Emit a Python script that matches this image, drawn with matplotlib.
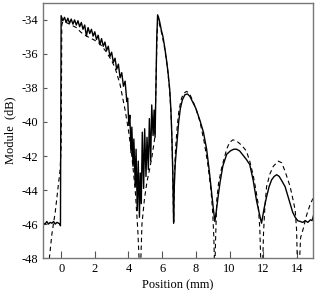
"""Module vs position: measured (solid) and simulated (dashed) profiles."""
import matplotlib

matplotlib.use("Agg")
from matplotlib import pyplot as plt

plt.rcParams["font.family"] = ["Liberation Serif", "DejaVu Serif"]
plt.rcParams["axes.unicode_minus"] = False

# measured profile (mm, dB)
meas_x = [-1.05, -0.95, -0.85, -0.75, -0.65, -0.55, -0.45, -0.35, -0.25, -0.15, -0.07, -0.04,
          -0.02, 0.0, 0.1, 0.2, 0.3, 0.4, 0.5, 0.6, 0.7, 0.8, 0.9, 1.0, 1.1, 1.2, 1.3, 1.4,
          1.5, 1.6, 1.7, 1.8, 1.9, 2.0, 2.1, 2.2, 2.3, 2.4, 2.5, 2.6, 2.7, 2.8, 2.9, 3.0,
          3.1, 3.2, 3.3, 3.4, 3.5, 3.6, 3.7, 3.8, 3.9, 3.95,
          4.02, 4.08, 4.15, 4.2, 4.27, 4.32, 4.4, 4.45, 4.52, 4.58, 4.65, 4.7, 4.76, 4.82,
          4.9, 4.96, 5.04, 5.1, 5.18, 5.24, 5.32, 5.38, 5.46, 5.52, 5.58, 5.63, 5.68, 5.73,
          5.85, 5.95, 6.05, 6.15, 6.25, 6.35, 6.45, 6.52, 6.58, 6.63, 6.68, 6.72, 6.78,
          6.88, 6.98, 7.08, 7.2, 7.35, 7.5, 7.65, 7.8, 8.0, 8.24, 8.45, 8.64, 8.8, 8.94,
          9.05, 9.13, 9.22, 9.32, 9.43, 9.6, 9.83, 10.05, 10.25, 10.42, 10.6, 10.8, 11.0,
          11.2, 11.4, 11.6, 11.75, 11.9, 12.05, 12.2, 12.35, 12.5, 12.65, 12.8, 12.95,
          13.1, 13.3, 13.45, 13.6, 13.75, 13.9, 14.05, 14.2, 14.35, 14.5, 14.65, 14.8,
          14.9, 15.0]
meas_y = [-45.95, -46.0, -45.85, -46.0, -45.9, -45.95, -45.85, -46.0, -45.9, -45.95, -46.0, -46.1,
          -40.0, -33.75, -34.05, -33.85, -34.15, -33.9, -34.2, -33.95, -34.25, -34.0, -34.3,
          -34.05, -34.4, -34.15, -34.55, -34.3, -34.95, -34.45, -34.8, -34.55, -34.95, -34.7,
          -35.15, -34.9, -35.45, -35.1, -35.55, -35.3, -35.8, -35.55, -36.15, -35.9, -36.5,
          -36.25, -36.9, -36.6, -37.4, -37.1, -37.9, -37.6, -38.8, -38.6,
          -40.2, -39.6, -41.8, -40.3, -42.6, -41.0, -43.8, -41.6, -45.2, -42.3, -45.6, -43.0,
          -44.8, -40.6, -43.9, -40.4, -43.2, -40.9, -42.8, -39.8, -42.3, -39.0, -40.8, -39.3,
          -40.9, -38.0, -35.0, -33.7,
          -34.1, -34.6, -35.0, -35.6, -36.3, -37.1, -38.1, -39.3, -41.0, -43.0, -45.9, -43.8,
          -42.4, -41.2, -40.0, -39.2, -38.7, -38.4, -38.35, -38.5, -38.8, -39.2, -39.9,
          -40.6, -41.6, -42.9, -44.2, -45.2, -45.85, -45.2, -44.4, -43.6, -42.6, -41.9,
          -41.7, -41.6, -41.6, -41.7, -41.95, -42.2, -42.5, -43.4, -44.6, -45.3, -45.95,
          -45.1, -44.4, -43.8, -43.4, -43.2, -43.1, -43.2, -43.45, -43.8, -44.3, -44.8,
          -45.3, -45.6, -45.8, -45.85, -45.9, -45.8, -45.9, -45.75, -45.8, -45.45]

# simulated profile (mm, dB)
sim_x = [-0.75, -0.55, -0.35, -0.2, -0.06, 0.0, 0.02, 0.04, 0.1, 0.3, 0.6, 0.9, 1.2,
         1.6, 2.0, 2.3, 2.7, 3.0, 3.2, 3.5, 3.8, 4.0, 4.2, 4.4, 4.55, 4.65,
         4.72, 4.8, 4.95, 5.1, 5.25, 5.4, 5.55, 5.62, 5.68, 5.74, 5.78,
         5.85, 6.0, 6.15, 6.3, 6.45, 6.55, 6.62, 6.68, 6.73, 6.8, 6.9, 7.0, 7.15, 7.3,
         7.45, 7.6, 7.8, 8.0, 8.25, 8.5, 8.7, 8.9, 9.0, 9.07, 9.12,
         9.17, 9.24, 9.35, 9.53, 9.83, 10.0, 10.2, 10.4, 10.7, 11.0, 11.2, 11.4, 11.55,
         11.7, 11.8, 11.88, 11.95, 12.02, 12.1, 12.2, 12.4, 12.6, 12.9, 13.1, 13.3,
         13.6, 13.8, 13.9, 13.98, 14.05, 14.12, 14.22, 14.37, 14.57, 14.77, 14.95]
sim_y = [-48.5, -46.6, -45.3, -44.0, -42.8, -41.5, -38.0, -34.3, -34.1, -34.15, -34.3,
         -34.45, -34.75, -35.0, -35.2, -35.4, -35.9, -36.4, -36.8, -37.8, -39.3, -40.5,
         -42.0, -44.0, -46.3, -48.5,
         -48.5, -46.0, -44.5, -43.5, -42.8, -42.0, -41.0, -38.5, -35.5, -33.9, -33.8,
         -34.3, -34.9, -35.7, -36.7, -38.2, -40.0, -42.5, -46.0, -43.0, -41.5, -40.2,
         -39.3, -38.6, -38.3, -38.2, -38.3, -38.7, -39.2, -40.0, -41.2, -42.4, -44.0,
         -45.3, -46.8, -49.0,
         -47.0, -44.6, -43.6, -42.7, -41.6, -41.2, -41.05, -41.1, -41.35, -41.7, -42.3,
         -43.1, -43.9, -44.8, -46.3, -49.0, -49.0, -46.5, -45.0, -43.8, -43.05, -42.6,
         -42.3, -42.4, -42.9, -43.8, -44.7, -45.2, -46.3, -49.0, -49.0, -46.8, -46.3,
         -45.5, -44.9, -44.5]

xticks = [0, 2, 4, 6, 8, 10, 12, 14]
yticks = [-48, -46, -44, -42, -40, -38, -36, -34]

fig = plt.figure(figsize=(3.17, 2.90), dpi=100)
ax = fig.add_axes([0.136, 0.11, 0.851, 0.88])
ax.plot(meas_x, meas_y, color="black", lw=1.0)
ax.plot(sim_x, sim_y, color="black", lw=0.8, ls=(0, (4, 3)))
ax.set_xlim(-1.07, 14.95)
ax.set_ylim(-48, -33)
ax.set_xticks(xticks)
ax.set_yticks(yticks)
ax.tick_params(direction="in", color="#555555", labelsize=9)
ax.tick_params(axis="x", length=5)
ax.tick_params(axis="y", length=3)
for s in ax.spines.values():
    s.set_color("#777777")
    s.set_linewidth(1.0)
ax.set_xlabel("Position (mm)", fontsize=9, labelpad=3)
ax.set_ylabel("Module  (dB)", fontsize=9, labelpad=4)
fig.savefig("out.png", dpi=100)
